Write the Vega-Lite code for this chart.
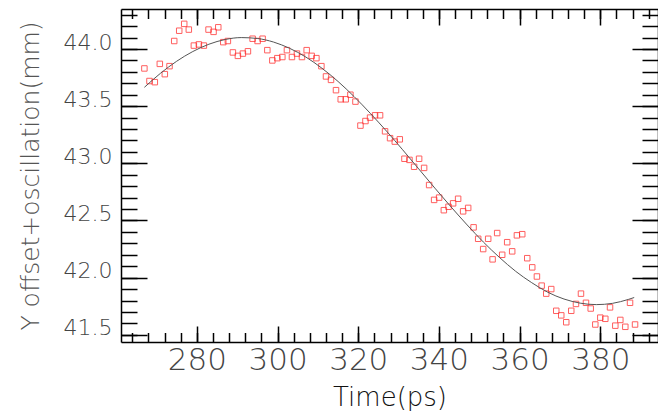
{
  "$schema": "https://vega.github.io/schema/vega-lite/v6.json",
  "width": 537,
  "height": 333,
  "autosize": "none",
  "padding": {"left": 121, "top": 9, "right": 0, "bottom": 72},
  "background": "white",
  "config": {
    "view": {"stroke": null},
    "axis": {"grid": false, "labelFont": "DejaVu Sans", "titleFont": "DejaVu Sans", "tickColor": "black", "tickWidth": 1.5, "domainColor": "black", "domainWidth": 1.5, "labelOverlap": false, "labelFlush": false}
  },
  "datasets": {
    "pts": [
      {"t": 267.0, "y": 43.83}, {"t": 268.26, "y": 43.72}, {"t": 269.58, "y": 43.71}, {"t": 270.82, "y": 43.87},
      {"t": 272.06, "y": 43.78}, {"t": 273.23, "y": 43.85}, {"t": 274.39, "y": 44.07}, {"t": 275.63, "y": 44.16},
      {"t": 276.87, "y": 44.22}, {"t": 278.01, "y": 44.17}, {"t": 279.26, "y": 44.03}, {"t": 280.5, "y": 44.04},
      {"t": 281.74, "y": 44.03}, {"t": 282.9, "y": 44.17}, {"t": 284.14, "y": 44.15}, {"t": 285.31, "y": 44.19},
      {"t": 286.55, "y": 44.06}, {"t": 287.69, "y": 44.07}, {"t": 288.93, "y": 43.97}, {"t": 290.17, "y": 43.94},
      {"t": 291.41, "y": 43.96}, {"t": 292.66, "y": 43.98}, {"t": 293.82, "y": 44.09}, {"t": 295.06, "y": 44.07},
      {"t": 296.3, "y": 44.09}, {"t": 297.47, "y": 43.99}, {"t": 298.71, "y": 43.9}, {"t": 299.95, "y": 43.92},
      {"t": 301.19, "y": 43.93}, {"t": 302.33, "y": 43.99}, {"t": 303.57, "y": 43.93}, {"t": 304.81, "y": 43.96},
      {"t": 306.05, "y": 43.93}, {"t": 307.22, "y": 43.99}, {"t": 308.46, "y": 43.94}, {"t": 309.63, "y": 43.92},
      {"t": 310.87, "y": 43.85}, {"t": 312.01, "y": 43.76}, {"t": 313.25, "y": 43.73}, {"t": 314.49, "y": 43.64},
      {"t": 315.66, "y": 43.56}, {"t": 316.9, "y": 43.56}, {"t": 318.06, "y": 43.6}, {"t": 319.31, "y": 43.54},
      {"t": 320.55, "y": 43.33}, {"t": 321.79, "y": 43.37}, {"t": 322.93, "y": 43.4}, {"t": 324.17, "y": 43.42},
      {"t": 325.41, "y": 43.42}, {"t": 326.65, "y": 43.28}, {"t": 327.89, "y": 43.22}, {"t": 329.06, "y": 43.19},
      {"t": 330.3, "y": 43.21}, {"t": 331.46, "y": 43.04}, {"t": 332.7, "y": 43.03}, {"t": 333.85, "y": 42.97},
      {"t": 335.09, "y": 43.04}, {"t": 336.33, "y": 42.96}, {"t": 337.57, "y": 42.81}, {"t": 338.81, "y": 42.68},
      {"t": 340.05, "y": 42.7}, {"t": 341.22, "y": 42.59}, {"t": 342.38, "y": 42.62}, {"t": 343.52, "y": 42.65},
      {"t": 344.76, "y": 42.69}, {"t": 346.0, "y": 42.58}, {"t": 347.25, "y": 42.61}, {"t": 348.59, "y": 42.44},
      {"t": 349.73, "y": 42.34}, {"t": 350.97, "y": 42.25}, {"t": 352.21, "y": 42.34}, {"t": 353.3, "y": 42.16},
      {"t": 354.44, "y": 42.39}, {"t": 355.68, "y": 42.2}, {"t": 356.92, "y": 42.31}, {"t": 358.16, "y": 42.23},
      {"t": 359.33, "y": 42.37}, {"t": 360.65, "y": 42.38}, {"t": 361.89, "y": 42.17}, {"t": 363.13, "y": 42.09},
      {"t": 364.29, "y": 42.01}, {"t": 365.46, "y": 41.93}, {"t": 366.6, "y": 41.86}, {"t": 367.84, "y": 41.9},
      {"t": 369.08, "y": 41.71}, {"t": 370.32, "y": 41.67}, {"t": 371.56, "y": 41.61}, {"t": 372.8, "y": 41.71},
      {"t": 373.97, "y": 41.77}, {"t": 375.21, "y": 41.86}, {"t": 376.45, "y": 41.78}, {"t": 377.62, "y": 41.73},
      {"t": 378.76, "y": 41.59}, {"t": 380.0, "y": 41.65}, {"t": 381.24, "y": 41.64}, {"t": 382.41, "y": 41.74},
      {"t": 383.72, "y": 41.58}, {"t": 384.96, "y": 41.63}, {"t": 386.2, "y": 41.57}, {"t": 387.37, "y": 41.78},
      {"t": 388.61, "y": 41.59}
    ],
    "fit": [
      {"t": 267, "y": 43.665}, {"t": 271, "y": 43.788}, {"t": 275, "y": 43.893}, {"t": 279, "y": 43.978},
      {"t": 283, "y": 44.042}, {"t": 287, "y": 44.083}, {"t": 291, "y": 44.1}, {"t": 295, "y": 44.092},
      {"t": 299, "y": 44.061}, {"t": 303, "y": 44.006}, {"t": 307, "y": 43.93}, {"t": 311, "y": 43.832},
      {"t": 315, "y": 43.716}, {"t": 319, "y": 43.583}, {"t": 323, "y": 43.437}, {"t": 327, "y": 43.282},
      {"t": 331, "y": 43.119}, {"t": 335, "y": 42.951}, {"t": 339, "y": 42.783}, {"t": 343, "y": 42.619},
      {"t": 347, "y": 42.461}, {"t": 351, "y": 42.312}, {"t": 355, "y": 42.177}, {"t": 359, "y": 42.056},
      {"t": 363, "y": 41.956}, {"t": 367, "y": 41.872}, {"t": 371, "y": 41.813}, {"t": 375, "y": 41.777},
      {"t": 379, "y": 41.764}, {"t": 383, "y": 41.775}, {"t": 387, "y": 41.81}, {"t": 388.4, "y": 41.826}
    ]
  },
  "layer": [
    {
      "data": {"name": "pts"},
      "mark": {"type": "point", "shape": "square", "filled": false, "size": 30, "strokeWidth": 1, "color": "#ff2a2a", "opacity": 0.75},
      "encoding": {
        "x": {"field": "t", "type": "quantitative", "scale": {"domain": [261.2, 394.3], "nice": false, "zero": false},
          "axis": {"orient": "bottom", "values": [280, 300, 320, 340, 360, 380], "ticks": false, "domain": true,
            "labelFontSize": 31, "labelFontWeight": 200, "labelColor": "#444", "labelPadding": 3,
            "title": "Time(ps)", "titleFontSize": 26, "titleFontWeight": 200, "titleColor": "#111", "titlePadding": 9}},
        "y": {"field": "y", "type": "quantitative", "scale": {"domain": [41.437, 44.35], "nice": false, "zero": false},
          "axis": {"orient": "left", "values": [41.5, 42, 42.5, 43, 43.5, 44], "format": ".1f", "ticks": false, "domain": true,
            "labelFontSize": 22, "labelFontWeight": 200, "labelColor": "#444", "labelBaseline": "alphabetic", "labelPadding": 9,
            "title": "Y offset+oscillation(mm)", "titleFontSize": 25, "titleFontWeight": 200, "titleColor": "#555", "titlePadding": 20}}
      }
    },
    {
      "data": {"name": "fit"},
      "mark": {"type": "line", "color": "#555", "strokeWidth": 1, "interpolate": "monotone"},
      "encoding": {
        "x": {"field": "t", "type": "quantitative", "axis": {"orient": "top", "values": [280, 300, 320, 340, 360, 380], "labels": false, "tickSize": -16, "domain": true, "title": null}},
        "y": {"field": "y", "type": "quantitative", "axis": {"orient": "right", "values": [41.5, 42, 42.5, 43, 43.5, 44], "labels": false, "tickSize": -26, "domain": true, "title": null}}
      }
    },
    {
      "data": {"name": "pts"},
      "mark": {"type": "point", "opacity": 0},
      "encoding": {
        "x": {"field": "t", "type": "quantitative", "axis": {"orient": "bottom", "values": [280, 300, 320, 340, 360, 380], "labels": false, "tickSize": -16, "domain": false, "title": null}},
        "y": {"field": "y", "type": "quantitative", "axis": {"orient": "left", "values": [41.5, 42, 42.5, 43, 43.5, 44], "labels": false, "tickSize": -26, "domain": false, "title": null}}
      }
    },
    {
      "data": {"name": "pts"},
      "mark": {"type": "point", "opacity": 0},
      "encoding": {
        "x": {"field": "t", "type": "quantitative", "axis": {"orient": "bottom", "values": [264, 268, 272, 276, 280, 284, 288, 292, 296, 300, 304, 308, 312, 316, 320, 324, 328, 332, 336, 340, 344, 348, 352, 356, 360, 364, 368, 372, 376, 380, 384, 388, 392], "labels": false, "tickSize": -9.5, "domain": false, "title": null}},
        "y": {"field": "y", "type": "quantitative", "axis": {"orient": "left", "values": [41.5, 41.6, 41.7, 41.8, 41.9, 42.0, 42.1, 42.2, 42.3, 42.4, 42.5, 42.6, 42.7, 42.8, 42.9, 43.0, 43.1, 43.2, 43.3, 43.4, 43.5, 43.6, 43.7, 43.8, 43.9, 44.0, 44.1, 44.2, 44.3], "labels": false, "tickSize": -16, "domain": false, "title": null}}
      }
    },
    {
      "data": {"name": "pts"},
      "mark": {"type": "point", "opacity": 0},
      "encoding": {
        "x": {"field": "t", "type": "quantitative", "axis": {"orient": "top", "values": [264, 268, 272, 276, 280, 284, 288, 292, 296, 300, 304, 308, 312, 316, 320, 324, 328, 332, 336, 340, 344, 348, 352, 356, 360, 364, 368, 372, 376, 380, 384, 388, 392], "labels": false, "tickSize": -9.5, "domain": false, "title": null}},
        "y": {"field": "y", "type": "quantitative", "axis": {"orient": "right", "values": [41.5, 41.6, 41.7, 41.8, 41.9, 42.0, 42.1, 42.2, 42.3, 42.4, 42.5, 42.6, 42.7, 42.8, 42.9, 43.0, 43.1, 43.2, 43.3, 43.4, 43.5, 43.6, 43.7, 43.8, 43.9, 44.0, 44.1, 44.2, 44.3], "labels": false, "tickSize": -16, "domain": false, "title": null}}
      }
    }
  ],
  "resolve": {"axis": {"x": "independent", "y": "independent"}}
}
